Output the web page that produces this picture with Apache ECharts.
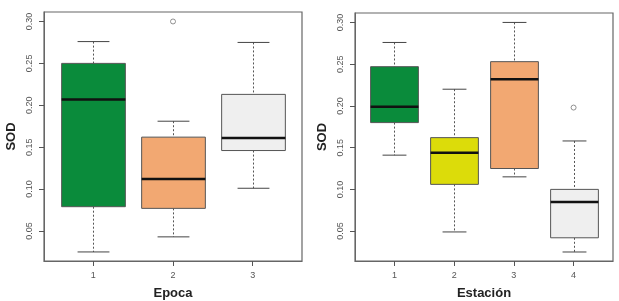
<!DOCTYPE html>
<html>
<head>
<meta charset="utf-8">
<script src="https://cdn.jsdelivr.net/npm/echarts@6/dist/echarts.min.js"></script>
<style>
html, body { margin: 0; padding: 0; background: #fff; }
#chart { width: 619px; height: 301px; }
</style>
</head>
<body>
<div id="chart"></div>
<script>
/* datos: [min, Q1, mediana, Q3, max] */
var epocaCats = [1, 2, 3];
var epocaStats = [
	[0.025, 0.079, 0.207, 0.250, 0.276],
	[0.043, 0.077, 0.112, 0.162, 0.181],
	[0.101, 0.146, 0.161, 0.213, 0.275]
];
var epocaOutliers = [[2, 0.300]];
var epocaColors = ['#0a8b3b', '#f2a872', '#efefef'];

var estacionCats = [1, 2, 3, 4];
var estacionStats = [
	[0.141, 0.180, 0.199, 0.247, 0.276],
	[0.049, 0.106, 0.144, 0.162, 0.220],
	[0.115, 0.125, 0.232, 0.253, 0.300],
	[0.025, 0.042, 0.085, 0.100, 0.158]
];
var estacionOutliers = [[4, 0.198]];
var estacionColors = ['#0a8b3b', '#dcdc0a', '#f2a872', '#efefef'];

var yTicks = [0.05, 0.10, 0.15, 0.20, 0.25, 0.30];

var myChart = echarts.init(document.getElementById('chart'));

function boxRender(colors) {
	return function (params, api) {
		var x = api.value(0);
		var half = api.size([0.8, 0])[0] / 2;
		var cap = half / 2;
		var pLow = api.coord([x, api.value(1)]);
		var pQ1 = api.coord([x, api.value(2)]);
		var pMed = api.coord([x, api.value(3)]);
		var pQ3 = api.coord([x, api.value(4)]);
		var pHigh = api.coord([x, api.value(5)]);
		var cx = Math.round(pMed[0]) + 0.5;
		var dash = { stroke: '#555', lineWidth: 1, lineDash: [2, 2] };
		var solid = { stroke: '#444', lineWidth: 1 };
		return {
			type: 'group',
			children: [
				{ type: 'line', shape: { x1: cx, y1: pHigh[1], x2: cx, y2: pQ3[1] }, style: dash },
				{ type: 'line', shape: { x1: cx, y1: pQ1[1], x2: cx, y2: pLow[1] }, style: dash },
				{ type: 'line', shape: { x1: cx - cap, y1: pHigh[1], x2: cx + cap, y2: pHigh[1] }, style: solid },
				{ type: 'line', shape: { x1: cx - cap, y1: pLow[1], x2: cx + cap, y2: pLow[1] }, style: solid },
				{
					type: 'rect',
					shape: { x: cx - half, y: pQ3[1], width: half * 2, height: pQ1[1] - pQ3[1] },
					style: { fill: colors[params.dataIndex], stroke: '#555', lineWidth: 1 }
				},
				{ type: 'line', shape: { x1: cx - half, y1: pMed[1], x2: cx + half, y2: pMed[1] }, style: { stroke: '#111', lineWidth: 2.5 } }
			]
		};
	};
}

function xAxisCfg(idx, cats, name) {
	return {
		gridIndex: idx,
		type: 'value',
		position: 'bottom',
		min: 0.5 - cats.length * 0.04,
		max: cats.length + 0.5 + cats.length * 0.04,
		name: name,
		nameLocation: 'middle',
		nameGap: 26,
		nameMoveOverlap: false,
		nameTextStyle: { fontFamily: 'Liberation Sans', fontWeight: 'bold', fontSize: 13, color: '#222' },
		axisLine: { show: true, onZero: false, lineStyle: { color: '#666', width: 1 } },
		splitLine: { show: false },
		axisTick: { show: true, length: 5, inside: false, customValues: cats, lineStyle: { color: '#555', width: 1 } },
		axisLabel: { customValues: cats, margin: 10, fontSize: 9, color: '#555', fontFamily: 'Liberation Sans' }
	};
}

function yAxisCfg(idx) {
	return {
		gridIndex: idx,
		type: 'value',
		min: 0.0142,
		max: 0.3113,
		name: 'SOD',
		nameLocation: 'middle',
		nameGap: 26,
		nameMoveOverlap: false,
		nameRotate: 90,
		nameTextStyle: { fontFamily: 'Liberation Sans', fontWeight: 'bold', fontSize: 13, color: '#222' },
		axisLine: { show: true, onZero: false, lineStyle: { color: '#666', width: 1 } },
		splitLine: { show: false },
		axisTick: { show: true, length: 5, inside: false, customValues: yTicks, lineStyle: { color: '#555', width: 1 } },
		axisLabel: {
			customValues: yTicks,
			rotate: 90,
			margin: 10,
			fontSize: 9,
			color: '#555',
			fontFamily: 'Liberation Sans',
			formatter: function (v) { return v.toFixed(2); }
		}
	};
}

function toData(cats, stats) {
	return stats.map(function (s, i) { return [cats[i]].concat(s); });
}

var option = {
	animation: false,
	backgroundColor: '#fff',
	grid: [
		{ left: 44, top: 12, width: 258, height: 249, outerBoundsMode: 'none', show: true, borderColor: '#666', borderWidth: 1.2, backgroundColor: 'transparent' },
		{ left: 355, top: 13, width: 258, height: 248, outerBoundsMode: 'none', show: true, borderColor: '#666', borderWidth: 1.2, backgroundColor: 'transparent' }
	],
	xAxis: [xAxisCfg(0, epocaCats, 'Epoca'), xAxisCfg(1, estacionCats, 'Estación')],
	yAxis: [yAxisCfg(0), yAxisCfg(1)],
	series: [
		{
			type: 'custom',
			xAxisIndex: 0,
			yAxisIndex: 0,
			renderItem: boxRender(epocaColors),
			encode: { x: 0, y: [1, 2, 3, 4, 5] },
			data: toData(epocaCats, epocaStats)
		},
		{
			type: 'scatter',
			xAxisIndex: 0,
			yAxisIndex: 0,
			symbol: 'circle',
			symbolSize: 5,
			itemStyle: { color: '#fff', borderColor: '#777', borderWidth: 1 },
			data: epocaOutliers
		},
		{
			type: 'custom',
			xAxisIndex: 1,
			yAxisIndex: 1,
			renderItem: boxRender(estacionColors),
			encode: { x: 0, y: [1, 2, 3, 4, 5] },
			data: toData(estacionCats, estacionStats)
		},
		{
			type: 'scatter',
			xAxisIndex: 1,
			yAxisIndex: 1,
			symbol: 'circle',
			symbolSize: 5,
			itemStyle: { color: '#fff', borderColor: '#777', borderWidth: 1 },
			data: estacionOutliers
		}
	]
};
myChart.setOption(option);
</script>
</body>
</html>
